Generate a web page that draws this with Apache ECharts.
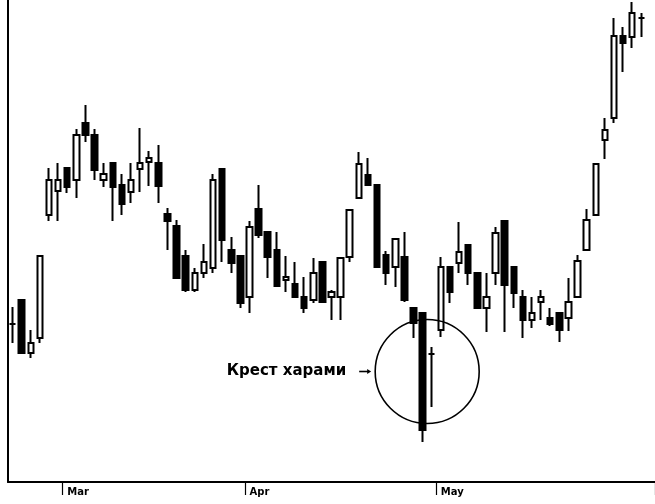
<!DOCTYPE html>
<html><head><meta charset="utf-8">
<script src="https://cdn.jsdelivr.net/npm/echarts@6/dist/echarts.min.js"></script>
<style>html,body{margin:0;padding:0;background:#fff}#c{width:655px;height:504px}</style>
</head><body><div id="c"></div>
<script>
// trading days (category axis); last entry is an empty slot at the right edge
const days = [
  "2/21","2/22","2/23","2/26","2/27","2/28",
  "3/1","3/2","3/5","3/6","3/7","3/8","3/9","3/12","3/13","3/14","3/15","3/16","3/19","3/20","3/21","3/22","3/23","3/26","3/27","3/28",
  "4/2","4/3","4/4","4/5","4/6","4/9","4/10","4/11","4/12","4/13","4/16","4/17","4/18","4/19","4/20","4/23","4/24","4/25","4/26","4/27","4/30",
  "5/1","5/2","5/3","5/4","5/7","5/8","5/9","5/10","5/11","5/14","5/15","5/16","5/17","5/18","5/21","5/22","5/23","5/24","5/25","5/29","5/30","5/31","6/1","6/4"
];
// month tick labels
const monthStart = [6, 26, 47];
const monthNames = ["Mar", "Apr", "May"];
// [open, close, low, high]
const ohlc = [
  [158,158,139,175],[182,129,128,182],[129,139,124,152],[144,226,139,226],
  [267,302,261,314],[291,302,261,319],[314,295,289,314],[302,347,284,353],
  [359,347,340,377],[347,312,302,353],[302,308,295,319],[319,295,261,319],
  [297,278,267,308],[290,302,279,319],[313,319,290,354],[320,324,296,331],
  [319,296,279,337],[268,261,232,274],[256,204,204,262],[226,192,190,232],
  [192,209,190,214],[209,220,204,238],[214,302,209,308],[313,242,220,313],
  [232,219,209,245],[226,179,174,226],[185,255,169,261],[273,247,244,297],
  [250,225,204,250],[232,196,196,250],[202,205,190,226],[198,185,185,220],
  [185,174,169,205],[182,209,179,224],[220,180,179,220],[185,190,162,192],
  [185,224,162,224],[225,272,220,272],[284,318,284,330],[307,297,297,324],
  [297,215,215,297],[227,209,197,231],[215,243,195,243],[225,182,180,250],
  [174,159,144,174],[169,52,40,169],[128,128,75,135],[152,215,145,225],
  [215,190,179,215],[219,230,209,260],[237,209,197,237],[209,174,174,209],
  [174,185,150,209],[209,249,197,255],[261,197,150,261],[215,189,174,215],
  [185,162,144,192],[162,169,154,185],[180,185,162,192],[164,158,156,174],
  [169,152,140,169],[164,180,151,204],[185,221,185,227],[232,262,232,273],
  [267,318,267,318],[342,352,323,364],[364,446,359,464],[446,439,410,455],
  [445,469,434,480],[464,464,445,469]
];
const noteText = "Крест харами";
const haramiIdx = [45, 46];

const chart = echarts.init(document.getElementById('c'), null, {renderer: 'canvas'});
chart.setOption({
  animation: false,
  backgroundColor: '#fff',
  grid: {left: 8, right: 0, top: 0, bottom: 22},
  xAxis: [{
    type: 'category', data: days, boundaryGap: true,
    axisLine: {lineStyle: {color: '#000', width: 2}},
    axisTick: {show: true, alignWithLabel: false, interval: (i) => monthStart.includes(i), length: 13, lineStyle: {color: '#000', width: 1.2}},
    axisLabel: {
      show: true,
      interval: (i) => monthStart.includes(i),
      formatter: (v, i) => monthNames[monthStart.indexOf(i)] || '',
      align: 'left', margin: 5, color: '#000', fontWeight: 'bold', fontSize: 10, fontFamily: 'DejaVu Sans'
    },
    splitLine: {show: false}
  }],
  yAxis: {
    type: 'value', min: 0, max: 482,
    axisLine: {show: true, lineStyle: {color: '#000', width: 2}},
    axisTick: {show: false}, axisLabel: {show: false}, splitLine: {show: false}
  },
  series: [{
    type: 'candlestick', data: ohlc, barWidth: 6,
    itemStyle: {color: '#fff', color0: '#000', borderColor: '#000', borderColor0: '#000', borderColorDoji: '#000', borderWidth: 2}
  }]
});

// annotation: circle around the harami pair, label with arrow
const a = chart.convertToPixel({seriesIndex: 0}, [haramiIdx[0], (ohlc[haramiIdx[0]][0] + ohlc[haramiIdx[0]][1]) / 2]);
const b = chart.convertToPixel({seriesIndex: 0}, [haramiIdx[1], ohlc[haramiIdx[1]][0]]);
const cx = (a[0] + b[0]) / 2, cy = a[1], r = 52;
chart.setOption({
  graphic: [
    {type: 'circle', shape: {cx: cx, cy: cy, r: r}, style: {fill: 'none', stroke: '#000', lineWidth: 1.6}, z: 10},
    {type: 'text', x: cx - r - 29, y: cy, style: {text: noteText, fill: '#000', font: 'bold 15px "DejaVu Sans"', align: 'right', verticalAlign: 'middle'}, z: 10},
    {type: 'line', shape: {x1: cx - r - 16, y1: cy, x2: cx - r - 7, y2: cy}, style: {stroke: '#000', lineWidth: 1.6}, z: 10},
    {type: 'polygon', shape: {points: [[cx - r - 4, cy], [cx - r - 8, cy - 2.5], [cx - r - 8, cy + 2.5]]}, style: {fill: '#000'}, z: 10}
  ]
});
</script>
</body></html>
